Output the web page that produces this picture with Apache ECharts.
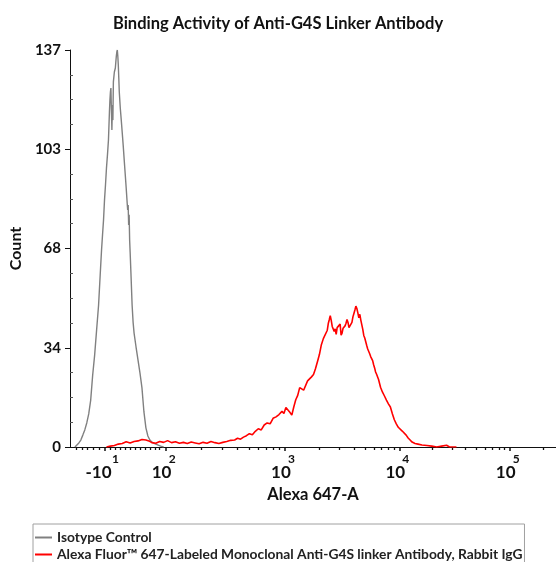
<!DOCTYPE html>
<html><head><meta charset="utf-8">
<script src="https://cdn.jsdelivr.net/npm/echarts@6/dist/echarts.min.js"></script>
<style>html,body{margin:0;padding:0;background:#fff}#c{width:556px;height:562px}</style>
</head><body><div id="c"></div>
<script>
const chartTitle = 'Binding Activity of Anti-G4S Linker Antibody';
const seriesNames = ['Isotype Control', 'Alexa Fluor\u2122 647-Labeled Monoclonal Anti-G4S linker Antibody, Rabbit IgG'];
const xName = 'Alexa 647-A';
const yName = 'Count';
const yTickValues = [0, 34.25, 68.5, 102.75, 137];
const yTickLabels = ['0', '34', '68', '103', '137'];
// display channel of each decade on the biexponential axis
const xDecadeChannels = [35, 97, 218, 334, 446];
const xDecadeBases = ['-10', '10', '10', '10', '10'];
const xDecadeExps = ['1', '2', '3', '4', '5'];
const xLinearTicks = [6, 12, 18, 24, 30, 41, 46, 51, 56, 61, 66, 71, 76, 81, 86, 91];

const grayChannel = [5,7,9,11,13,15,17,19,21,23,25,27,29,31,32,33,34,35,36,37,38,39,40,40.5,41,41.5,42,42.5,43,43.5,44,45,46,46.5,47,47.5,48,48.5,49,49.5,50,51,52,53,54,55,56,57,58,58.5,59,59.5,60,60.5,61,62,63,64,65,67,69,71,73,74,75,77,79,81,83,85,87,89,92,95];
const grayCount = [0,0.7,1.4,2.4,4.1,5.9,8.3,11.4,16.2,24.8,31.7,40.4,49.0,61.8,68.0,73.2,78.3,85.2,90.4,96.3,100.8,105.9,115.6,119.7,122.5,123.9,116.3,109.4,118.0,112.8,126.0,129.4,130.8,132.9,134.9,136.3,137.0,134.9,131.8,127.3,122.5,117.0,112.8,108.4,103.9,99.0,94.2,89.4,84.2,81.8,83.5,76.6,80.1,71.4,67.3,58.3,49.0,43.1,39.3,34.5,30.0,25.5,20.4,16.2,12.1,6.6,3.8,2.4,1.7,1.4,1.0,0.7,0.3,0];

const redChannel = [37,41,45,49,53,57,61,65,69,73,77,80,83,87,91,95,99,103,107,111,115,119,123,127,131,135,139,143,147,151,155,159,163,167,170,173,176,179,182,185,188,191,194,197,200,203,206,209,212,215,217,219,221,223,225,227,229,231,233,235,237,239,241,243,245,247,249,251,253,255,257,259,261,262,263,264,265,266,267,268,269,270,271,273,274,275,276,277,279,280,281,282,283,285,286,287,288,289,290,291,292,293,294,295,297,298,299,300,301,302,303,304,305,306,307,308,309,310,311,313,315,317,319,321,323,325,327,329,331,333,335,337,339,341,343,345,347,350,353,357,362,367,372,377,382,385,392];
const redCount = [0,0.3,0.5,1.0,1.2,1.8,1.4,1.9,2.1,2.6,2.4,2.1,1.5,1.3,1.9,1.6,2.2,1.5,1.8,1.3,1.6,1.2,1.7,1.4,1.1,1.6,1.3,1.9,1.5,1.2,1.6,1.9,2.3,2.4,3.0,2.7,3.4,3.9,4.6,4.2,5.4,6.3,5.9,7.6,8.3,8.0,9.9,10.4,11.2,12.3,11.6,13.6,13.0,12.0,11.0,13.8,16.3,17.8,20.5,21.0,19.6,19.2,22.8,23.5,24.2,25.0,27.0,29.4,31.9,35.3,37.4,37.0,40.3,42.6,43.9,45.3,43.7,41.6,42.0,39.9,40.8,38.9,41.2,40.9,42.4,38.6,39.3,41.0,41.8,42.7,44.0,43.0,41.2,40.8,43.0,44.9,46.1,47.3,48.6,47.8,46.3,44.6,45.8,43.8,40.6,38.5,37.6,36.3,35.0,33.8,34.2,32.2,31.2,31.4,29.8,28.4,27.3,25.9,25.1,23.3,20.6,18.9,17.6,16.2,14.9,13.8,11.5,9.4,8.0,6.8,6.3,5.5,5.0,4.1,3.1,2.4,1.7,1.2,1.0,0.7,0.5,0.3,0,0.3,0.6,0,0];

const X_MAX = 493;
// minor log ticks between decades (2..9 x 10^n)
const xMinorTicks = xLinearTicks.slice();
for (let i = 1; i < xDecadeChannels.length; i++) {
  const a = xDecadeChannels[i], w = (i + 1 < xDecadeChannels.length) ? xDecadeChannels[i + 1] - a : xDecadeChannels[i] - xDecadeChannels[i - 1];
  for (let k = 2; k <= 9; k++) {
    const v = a + Math.log10(k) * w;
    if (v < X_MAX) xMinorTicks.push(+v.toFixed(2));
  }
}
const yMinorTicks = [];
for (let i = 1; i < 16; i++) if (i % 4) yMinorTicks.push(137 * i / 16);

const FONT = 'Lato';
const chart = echarts.init(document.getElementById('c'));
chart.setOption({
  animation: false,
  backgroundColor: '#fff',
  title: {
    text: chartTitle, left: 'center', top: 10,
    textStyle: { fontFamily: FONT, fontWeight: 'bold', fontSize: 16.5, color: '#111' }
  },
  legend: {
    data: seriesNames, orient: 'vertical', left: 33, top: 524, height: 80,
    icon: 'rect', itemWidth: 17, itemHeight: 2, itemGap: 2,
    padding: [6, 2, 6, 2], borderColor: '#a0a0a0', borderWidth: 1,
    textStyle: { fontFamily: FONT, fontWeight: 'bold', fontSize: 13.8, color: '#222', lineHeight: 15 }
  },
  grid: { left: 63, right: 0, top: 50, bottom: 115 },
  xAxis: [{
    type: 'value', min: 0, max: X_MAX,
    name: xName, nameLocation: 'middle', nameGap: 37,
    nameTextStyle: { fontFamily: FONT, fontWeight: 'bold', fontSize: 16.5, color: '#111' },
    axisLine: { show: true, lineStyle: { color: '#111', width: 1 } },
    axisTick: { show: true, customValues: xDecadeChannels, length: 4, lineStyle: { color: '#111', width: 1.5 } },
    splitLine: { show: false },
    axisLabel: {
      customValues: xDecadeChannels, margin: 6,
      formatter: function (v) {
        const i = xDecadeChannels.indexOf(v);
        const neg = xDecadeBases[i].length > 2;
        return '{' + (neg ? 'sn' : 's') + '|' + xDecadeExps[i] + '}\n{' + (neg ? 'bn' : 'b') + '|' + xDecadeBases[i] + '}';
      },
      rich: {
        b: { fontFamily: FONT, fontWeight: 'bold', fontSize: 17, color: '#111', lineHeight: 16, padding: [0, 8, 0, 0] },
        bn: { fontFamily: FONT, fontWeight: 'bold', fontSize: 17, color: '#111', lineHeight: 16, padding: [0, 12, 0, 0] },
        s: { fontFamily: FONT, fontWeight: 'bold', fontSize: 12, color: '#111', lineHeight: 12, padding: [0, 0, 0, 13] },
        sn: { fontFamily: FONT, fontWeight: 'bold', fontSize: 12, color: '#111', lineHeight: 12, padding: [0, 0, 0, 22] }
      }
    }
  }, {
    type: 'value', min: 0, max: X_MAX, position: 'bottom',
    axisLine: { show: false },
    axisTick: { show: true, customValues: xMinorTicks, length: 3, lineStyle: { color: '#111', width: 1.3 } },
    axisLabel: { show: false }, splitLine: { show: false }
  }],
  yAxis: [{
    type: 'value', min: 0, max: 137,
    name: yName, nameLocation: 'middle', nameGap: 35, nameRotate: 90,
    nameTextStyle: { fontFamily: FONT, fontWeight: 'bold', fontSize: 16, color: '#111' },
    axisLine: { show: true, lineStyle: { color: '#111', width: 1 } },
    axisTick: { show: true, customValues: yTickValues, length: 5, lineStyle: { color: '#111' } },
    splitLine: { show: false },
    axisLabel: {
      customValues: yTickValues, margin: 9,
      fontFamily: FONT, fontWeight: 'bold', fontSize: 15, color: '#111',
      formatter: function (v) { return yTickLabels[yTickValues.indexOf(v)]; }
    }
  }, {
    type: 'value', min: 0, max: 137, position: 'left',
    axisLine: { show: false },
    axisTick: { show: true, inside: true, customValues: yMinorTicks, length: 3, lineStyle: { color: '#555' } },
    axisLabel: { show: false }, splitLine: { show: false }
  }],
  series: [{
    name: seriesNames[0], type: 'line', showSymbol: false, symbol: 'none',
    xAxisIndex: 0, yAxisIndex: 0,
    color: '#808080', lineStyle: { color: '#808080', width: 1.4 },
    data: grayChannel.map((c, i) => [c, grayCount[i]])
  }, {
    name: seriesNames[1], type: 'line', showSymbol: false, symbol: 'none',
    xAxisIndex: 0, yAxisIndex: 0,
    color: '#ff0000', lineStyle: { color: '#ff0000', width: 1.6 },
    data: redChannel.map((c, i) => [c, redCount[i]])
  }]
});
</script>
</body></html>
